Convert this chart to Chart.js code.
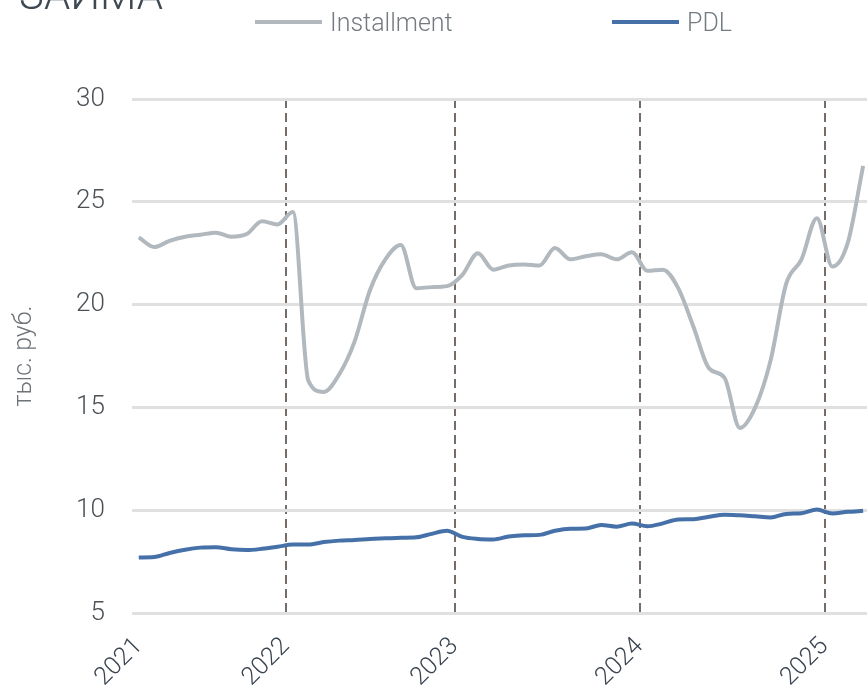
<!DOCTYPE html>
<html>
<head>
<meta charset="utf-8">
<script src="https://cdn.jsdelivr.net/npm/chart.js@4.4.1/dist/chart.umd.min.js"></script>
<style>
  body { margin: 0; background: #fff; }
  #wrap { position: relative; width: 867px; height: 690px; overflow: hidden; font-family: Roboto, "Noto Sans", sans-serif; }
  #title { position: absolute; left: 19px; top: -26px; font-size: 42px; line-height: 42px; font-weight: 300; color: #3f4953; white-space: nowrap; }
  #legend { position: absolute; top: 7px; left: 0; width: 867px; height: 30px; }
  .item { position: absolute; top: 0; display: flex; align-items: center; height: 30px; font-size: 25px; font-weight: 300; color: #737a80; }
  .item i { display: inline-block; width: 67px; height: 4px; margin-right: 8px; }
  canvas { position: absolute; left: 0; top: 0; }
</style>
</head>
<body>
<div id="wrap">
  <canvas id="loanChart" width="867" height="690"></canvas>
  <div id="title">ЗАЙМА</div>
  <div id="legend"></div>
</div>
<script>
// monthly points, index 0 = first month of 2021
var installment = [23.27, 22.8, 23.1, 23.3, 23.4, 23.5, 23.3, 23.43, 24.05, 23.9,
  24.5, 16.3, 15.75, 16.6, 18.2, 20.7, 22.2, 22.9, 20.8, 20.85,
  20.9, 21.45, 22.5, 21.7, 21.9, 21.95, 21.9, 22.75, 22.2, 22.35,
  22.45, 22.2, 22.55, 21.65, 21.7, 20.8, 18.9, 16.9, 16.45, 14.0,
  15.0, 17.3, 21.0, 22.2, 24.2, 21.85, 23.0, 26.75];
var pdl = [7.7, 7.72, 7.92, 8.08, 8.18, 8.2, 8.1, 8.06, 8.12, 8.22,
  8.33, 8.33, 8.45, 8.52, 8.55, 8.6, 8.63, 8.66, 8.68, 8.85,
  9.0, 8.7, 8.6, 8.58, 8.72, 8.78, 8.8, 9.0, 9.1, 9.11,
  9.28, 9.2, 9.35, 9.22, 9.36, 9.55, 9.56, 9.68, 9.78, 9.75,
  9.7, 9.65, 9.82, 9.85, 10.03, 9.84, 9.92, 9.97];
var yearLabels = ["2021", "2022", "2023", "2024", "2025"];
var yearTickPos = [0, 9.55, 20.5, 32.5, 44.5];
var yTicks = [5, 10, 15, 20, 25, 30];

var colInstallment = "#b1b8be";
var colPdl = "#4571a8";

function toPoints(arr) {
  return arr.map(function (v, i) { return { x: i, y: v }; });
}

// html legend
var legendItems = [
  { label: "Installment", color: colInstallment, left: 255 },
  { label: "PDL", color: colPdl, left: 612 }
];
var legendEl = document.getElementById("legend");
legendItems.forEach(function (it) {
  var d = document.createElement("div");
  d.className = "item";
  d.style.left = it.left + "px";
  d.innerHTML = '<i style="background:' + it.color + '"></i>' + it.label;
  legendEl.appendChild(d);
});

var ctx = document.getElementById("loanChart").getContext("2d");
new Chart(ctx, {
  type: "line",
  data: {
    datasets: [
      {
        label: "Installment",
        data: toPoints(installment),
        borderColor: colInstallment,
        backgroundColor: colInstallment,
        borderWidth: 4,
        pointRadius: 0,
        cubicInterpolationMode: "monotone",
      },
      {
        label: "PDL",
        data: toPoints(pdl),
        borderColor: colPdl,
        backgroundColor: colPdl,
        borderWidth: 4,
        pointRadius: 0,
        cubicInterpolationMode: "monotone",
      },
    ],
  },
  options: {
    responsive: false,
    animation: false,
    layout: { padding: { top: 99, right: 0, left: 10, bottom: 0 } },
    plugins: {
      legend: { display: false },
      tooltip: { enabled: false },
    },
    scales: {
      x: {
        type: "linear",
        min: -0.45,
        max: 47.25,
        afterBuildTicks: function (scale) {
          scale.ticks = yearTickPos.map(function (v) { return { value: v }; });
        },
        afterFit: function (scale) {
          scale.height = 77;
          scale.paddingRight = 0;
          scale.paddingLeft = 0;
        },
        ticks: {
          autoSkip: false,
          minRotation: 45,
          maxRotation: 45,
          padding: 19,
          color: "#3a4450",
          font: { family: "Roboto", size: 25, weight: "300" },
          callback: function (value, index) {
            return yearLabels[index];
          },
        },
        grid: {
          drawTicks: false,
          lineWidth: 2,
          color: function (c) {
            return c.index === 0 ? "rgba(0,0,0,0)" : "#776d68";
          },
        },
        border: { display: false, dash: [9, 5] },
      },
      y: {
        min: 5,
        max: 30,
        afterBuildTicks: function (scale) {
          scale.ticks = yTicks.map(function (v) { return { value: v }; });
        },
        ticks: {
          padding: 27,
          color: "#4b5157",
          font: { family: "Roboto", size: 26, weight: "300" },
        },
        grid: { drawTicks: false, color: "#e0e0e0", lineWidth: 3 },
        border: { display: false },
        title: {
          display: true,
          text: "тыс. руб.",
          color: "#6d7378",
          font: { family: "Roboto", size: 25, weight: "300" },
          padding: { top: 0, bottom: 9 },
        },
      },
    },
  },
});
</script>
</body>
</html>
